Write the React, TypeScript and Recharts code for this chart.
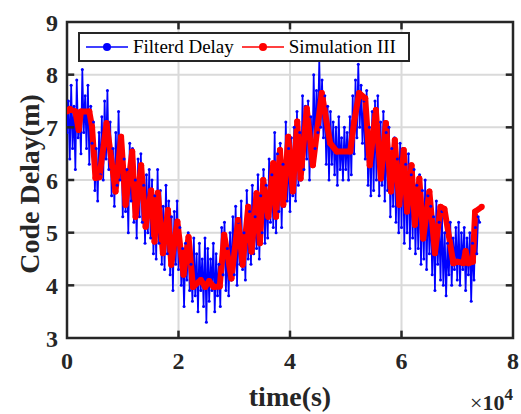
import {
  LineChart,
  Line,
  XAxis,
  YAxis,
  CartesianGrid,
  Legend,
  ReferenceArea,
  ReferenceLine,
} from "recharts";

// --- Data ---
// filtered delay sampled every 250 s (0 .. 74000 s)
const SAMPLE_STEP = 250;
const blueDelay = [
  6.9, 7.5, 6.4, 7.8, 6.6, 7.4, 6.2, 7.9, 6.8, 7.3, 6.5, 8.1, 6.9, 7.6, 6.6, 7.8, 6.3, 7.4, 6.7, 7.1,
  5.8, 6.6, 5.6, 6.9, 6.1, 7.2, 6.0, 7.5, 6.4, 7.7, 6.2, 7.1, 5.7, 6.6, 5.5, 6.9, 5.9, 7.3, 6.0, 6.8,
  5.3, 6.4, 5.4, 6.2, 5.0, 6.7, 5.6, 6.6, 5.2, 6.0, 4.9, 6.4, 5.3, 6.5, 5.2, 5.9, 4.8, 6.1, 5.0, 6.2,
  4.9, 6.0, 4.6, 5.7, 4.5, 6.2, 4.8, 5.8, 4.4, 5.5, 4.3, 5.9, 4.6, 5.6, 4.2, 5.3, 3.9, 5.4, 4.4, 5.6,
  4.3, 5.1, 4.0, 4.7, 3.6, 4.8, 4.1, 5.0, 3.9, 4.4, 3.7, 4.9, 3.8, 4.6, 3.5, 4.8, 3.9, 4.5, 3.6, 4.9,
  3.3, 4.7, 3.7, 4.5, 3.9, 4.8, 3.5, 4.6, 3.8, 4.4, 3.6, 5.1, 4.2, 5.2, 3.9, 4.7, 3.8, 5.0, 4.1, 5.3,
  4.2, 5.5, 4.0, 5.2, 4.4, 5.6, 4.3, 5.0, 4.1, 5.8, 4.5, 5.4, 4.4, 5.9, 4.6, 5.3, 4.7, 6.1, 4.5, 5.7,
  5.0, 6.2, 4.8, 5.9, 4.9, 6.4, 5.2, 6.1, 5.1, 6.9, 5.0, 6.5, 5.4, 6.7, 5.1, 6.3, 5.5, 7.1, 5.6, 6.6,
  5.4, 6.8, 5.7, 7.0, 5.6, 7.3, 5.9, 6.9, 6.0, 7.6, 6.2, 7.4, 6.4, 7.5, 6.0, 7.2, 6.3, 8.0, 6.6, 7.7,
  6.9, 8.3, 7.0, 7.9, 6.8, 7.6, 6.3, 7.4, 6.0, 7.3, 6.3, 7.1, 6.1, 7.0, 5.9, 7.2, 6.2, 6.8, 6.0, 7.0,
  6.2, 6.9, 6.0, 7.2, 6.1, 7.6, 6.5, 7.9, 6.8, 8.2, 7.0, 7.8, 6.7, 7.5, 6.4, 7.7, 5.9, 7.0, 5.7, 7.3,
  5.8, 7.5, 6.0, 7.6, 5.7, 7.1, 5.9, 7.3, 5.6, 6.9, 5.8, 7.0, 5.3, 6.6, 5.5, 6.8, 5.2, 6.4, 5.0, 6.7,
  5.1, 6.6, 4.8, 6.3, 5.0, 6.5, 4.7, 6.1, 4.9, 6.2, 4.6, 5.9, 4.7, 6.1, 4.4, 5.8, 4.5, 6.0, 4.3, 5.7,
  4.6, 5.5, 4.2, 5.3, 3.9, 5.6, 4.4, 5.2, 4.1, 5.4, 4.0, 5.0, 3.8, 4.8, 4.2, 5.2, 4.0, 4.9, 4.3, 5.1,
  4.1, 5.2, 4.0, 5.0, 4.3, 5.1, 3.9, 4.9, 4.2, 5.0, 3.7, 4.8, 4.1, 5.1, 4.6, 5.3, 5.2,
];

// simulation III, turning points (s, m)
const redTime = [
  0, 500, 1500, 2100, 2500, 4000, 4500, 5100, 5800, 7100,
  8700, 9700, 10500, 11700, 12300, 13300, 14100, 15100, 15700, 16300,
  17200, 18100, 18700, 19800, 20900, 21800, 22600, 24000, 24800, 25500,
  26300, 27400, 28200, 29500, 30700, 31500, 32500, 33100, 34000, 34600,
  35200, 36100, 37000, 37500, 38200, 38800, 39700, 40500, 41300, 41900,
  43000, 44100, 45700, 47200, 48400, 50800, 51500, 52400, 53500, 54300,
  55400, 56300, 57200, 58100, 58800, 59600, 60400, 61000, 61800, 62400,
  63200, 63900, 65000, 66000, 67000, 67700, 69300, 70000, 71100, 71500,
  72000, 72800, 73200, 74400,
];
const redDelay = [
  7.3, 7.35, 7.3, 6.95, 7.3, 7.3, 7.0, 6.04, 6.05, 7.08,
  5.78, 6.82, 5.53, 6.54, 5.3, 6.28, 5.11, 5.8, 4.83, 5.76,
  4.61, 5.43, 4.39, 5.21, 4.2, 4.92, 3.97, 4.1, 3.97, 4.08,
  3.97, 3.98, 4.96, 4.13, 5.24, 4.39, 5.49, 4.64, 5.75, 4.8,
  6.0, 5.3, 6.32, 5.3, 6.57, 5.53, 6.82, 5.78, 7.11, 6.03,
  7.36, 6.28, 7.65, 6.7, 6.54, 6.54, 7.1, 7.65, 7.55, 6.28,
  7.33, 6.03, 7.08, 5.78, 6.76, 5.53, 6.57, 5.4, 6.28, 5.15,
  6.03, 4.89, 5.78, 4.61, 5.49, 5.45, 4.42, 4.45, 4.42, 4.65,
  4.42, 4.45, 5.4, 5.49,
];

const xTicks = [0, 20000, 40000, 60000, 80000];
const yTicks = [3, 4, 5, 6, 7, 8, 9];
const seriesNames = ["Filterd Delay", "Simulation III"];

const BLUE = "#0000ff";
const RED = "#ff0000";
const AXIS = "#262626";
const FONT = '"Liberation Serif", "Times New Roman", serif';

const filtered = blueDelay.map((v, i) => ({ t: i * SAMPLE_STEP, v }));
const simulated = redTime.map((t, i) => ({ t, v: redDelay[i] }));

// inward tick marks like a matlab box
const X_TICK_LEN = 1300;
const Y_TICK_LEN = 0.14;
const innerX = xTicks.slice(1, -1);
const innerY = yTicks.slice(1, -1);

function LegendBox() {
  const items = [
    { name: seriesNames[0], color: BLUE },
    { name: seriesNames[1], color: RED },
  ];
  return (
    <div
      style={{
        display: "flex",
        alignItems: "center",
        height: 26,
        padding: "0 4px 0 6px",
        border: `2.5px solid ${AXIS}`,
        background: "#fff",
        fontFamily: FONT,
        fontSize: 19,
        color: "#000",
        whiteSpace: "nowrap",
      }}
    >
      {items.map((it) => (
        <div key={it.name} style={{ display: "flex", alignItems: "center", marginRight: 8 }}>
          <svg width={42} height={12}>
            <line x1={0} y1={6} x2={42} y2={6} stroke={it.color} strokeWidth={1.5} />
            <circle cx={21} cy={6} r={4} fill={it.color} />
          </svg>
          <span style={{ marginLeft: 5 }}>{it.name}</span>
        </div>
      ))}
    </div>
  );
}

export default function App() {
  const tickStyle = { fontFamily: FONT, fontSize: 24, fontWeight: 700, fill: "#262626" };

  return (
    <div style={{ position: "absolute", left: 0, top: 0, background: "#fff" }}>
      <LineChart width={521} height={414} margin={{ top: 22, right: 8, left: 0, bottom: 0 }}>
        <CartesianGrid stroke="#dadada" strokeWidth={2} />
        <XAxis
          type="number"
          dataKey="t"
          domain={[0, 80000]}
          ticks={xTicks}
          tickFormatter={(v) => String(v / 10000)}
          allowDataOverflow
          height={76}
          axisLine={false}
          tickLine={false}
          tickSize={0}
          tickMargin={14}
          tick={tickStyle}
          label={{
            content: () => (
              <g fontFamily={FONT} fontWeight={700} fill="#262626">
                <text x={290} y={406} textAnchor="middle" fontSize={28}>
                  time(s)
                </text>
                <text x={470} y={410} fontSize={22}>
                  <tspan fontWeight={400}>×</tspan>10
                  <tspan dy={-10} fontSize={17}>4</tspan>
                </text>
              </g>
            ),
          }}
        />
        <YAxis
          type="number"
          domain={[3, 9]}
          ticks={yTicks}
          width={67}
          axisLine={false}
          tickLine={false}
          tickSize={0}
          tickMargin={9}
          tick={tickStyle}
          label={{
            content: () => (
              <text
                x={29}
                y={184}
                transform="rotate(-90 29 184)"
                textAnchor="middle"
                dominantBaseline="central"
                fontFamily={FONT}
                fontWeight={700}
                fontSize={28}
                fill="#262626"
              >
                Code Delay(m)
              </text>
            ),
          }}
        />
        <Line
          data={filtered}
          dataKey="v"
          name={seriesNames[0]}
          stroke={BLUE}
          strokeWidth={1.7}
          dot={{ r: 1.5, fill: BLUE, stroke: "none" }}
          isAnimationActive={false}
        />
        <Line
          data={simulated}
          dataKey="v"
          name={seriesNames[1]}
          stroke={RED}
          strokeWidth={6}
          strokeLinejoin="round"
          dot={{ r: 3, fill: RED, stroke: "none" }}
          isAnimationActive={false}
        />
        {innerX.map((x) => (
          <ReferenceLine
            key={`xb${x}`}
            segment={[{ x, y: 3 }, { x, y: 3 + Y_TICK_LEN }]}
            stroke={AXIS}
            strokeWidth={2.5}
          />
        ))}
        {innerX.map((x) => (
          <ReferenceLine
            key={`xt${x}`}
            segment={[{ x, y: 9 }, { x, y: 9 - Y_TICK_LEN }]}
            stroke={AXIS}
            strokeWidth={2.5}
          />
        ))}
        {innerY.map((y) => (
          <ReferenceLine
            key={`yl${y}`}
            segment={[{ x: 0, y }, { x: X_TICK_LEN, y }]}
            stroke={AXIS}
            strokeWidth={2.5}
          />
        ))}
        {innerY.map((y) => (
          <ReferenceLine
            key={`yr${y}`}
            segment={[{ x: 80000, y }, { x: 80000 - X_TICK_LEN, y }]}
            stroke={AXIS}
            strokeWidth={2.5}
          />
        ))}
        <ReferenceArea
          x1={0}
          x2={80000}
          y1={3}
          y2={9}
          fill="none"
          stroke={AXIS}
          strokeWidth={2.5}
        />
        <Legend
          verticalAlign="middle"
          align="center"
          layout="horizontal"
          content={() => <LegendBox />}
          wrapperStyle={{ left: 78, top: 32, width: "auto" }}
        />
      </LineChart>
    </div>
  );
}
